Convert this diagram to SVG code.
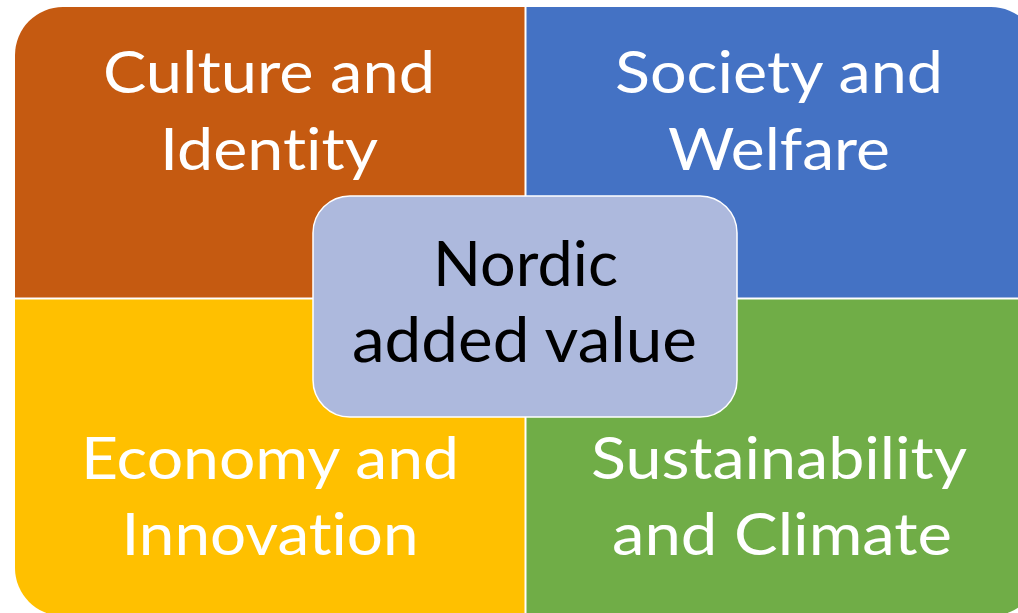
<svg xmlns="http://www.w3.org/2000/svg" width="1018" height="613" viewBox="0 0 1018 613">
<style>
text{font-variant-ligatures:none;font-feature-settings:"liga" 0,"dlig" 0,"clig" 0}
.q{font-family:Lato,"Open Sans","Liberation Sans",sans-serif;font-size:58px;fill:#FFFFFF;text-anchor:middle}
.c{font-family:Lato,"Open Sans","Liberation Sans",sans-serif;font-size:61px;fill:#000000;text-anchor:middle}
</style>
<rect width="1018" height="613" fill="#FFFFFF"/>
<g id="culture">
<path d="M15,55 A48,48 0 0 1 63,7 L524.5,7 L524.5,297.5 L15,297.5 Z" fill="#C55A11"/>
<text class="q" x="269" y="93" textLength="332" lengthAdjust="spacingAndGlyphs">Culture and</text>
<text class="q" x="269" y="170" textLength="218" lengthAdjust="spacingAndGlyphs">Identity</text>
</g>
<g id="society">
<path d="M526.5,7 L991,7 A48,48 0 0 1 1039,55 L1039,297.5 L526.5,297.5 Z" fill="#4472C4"/>
<text class="q" x="779" y="93" textLength="328" lengthAdjust="spacingAndGlyphs">Society and</text>
<text class="q" x="779" y="170" textLength="222" lengthAdjust="spacingAndGlyphs">Welfare</text>
</g>
<g id="economy">
<path d="M15,299.5 L524.5,299.5 L524.5,616 L63,616 A48,48 0 0 1 15,568 Z" fill="#FFC000"/>
<text class="q" x="270" y="479" textLength="378" lengthAdjust="spacingAndGlyphs">Economy and</text>
<text class="q" x="270" y="555" textLength="297" lengthAdjust="spacingAndGlyphs">Innovation</text>
</g>
<g id="sustainability">
<path d="M526.5,299.5 L1039,299.5 L1039,568 A48,48 0 0 1 991,616 L526.5,616 Z" fill="#70AD47"/>
<text class="q" x="779" y="479" textLength="376" lengthAdjust="spacingAndGlyphs">Sustainability</text>
<text class="q" x="782" y="555" textLength="340" lengthAdjust="spacingAndGlyphs">and Climate</text>
</g>
<g id="connectors"></g>
<g id="nordic">
<rect x="313" y="196" width="424" height="221" rx="37" ry="37" fill="#ADB9DD" stroke="#FFFFFF" stroke-width="1.5"/>
<text class="c" x="525.5" y="286" textLength="185" lengthAdjust="spacingAndGlyphs">Nordic</text>
<text class="c" x="524.5" y="361.5" textLength="345" lengthAdjust="spacingAndGlyphs">added value</text>
</g>
</svg>
